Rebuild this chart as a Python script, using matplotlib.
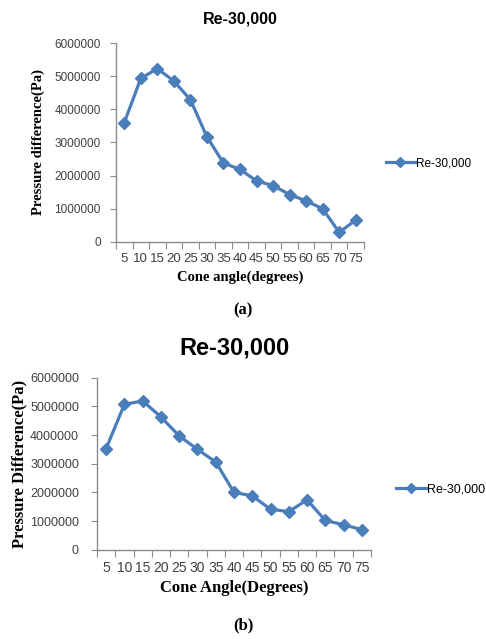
import numpy as np
import matplotlib
matplotlib.use("Agg")
import matplotlib.pyplot as plt
from matplotlib.ticker import FixedLocator, NullFormatter

# Cone angles (degrees) and pressure difference (Pa) at Re = 30,000
angles = [5, 10, 15, 20, 25, 30, 35, 40, 45, 50, 55, 60, 65, 70, 75]
dp_a = [3600000, 4930000, 5230000, 4850000, 4290000, 3170000, 2380000, 2190000,
        1840000, 1700000, 1430000, 1240000, 1000000, 290000, 660000]
dp_b = [3530000, 5070000, 5190000, 4630000, 3970000, 3500000, 3060000, 2000000,
        1880000, 1410000, 1330000, 1740000, 1020000, 870000, 700000]
y_ticks = [0, 1000000, 2000000, 3000000, 4000000, 5000000, 6000000]
series_name = "Re-30,000"

LINE = "#4a7ebb"
AXC = "#8c8c8c"
TICKC = "#404040"
SANS = ["Liberation Sans", "DejaVu Sans"]
SERIF = ["Liberation Serif", "DejaVu Serif"]

fig = plt.figure(figsize=(4.86, 6.39), dpi=100)


def panel(rect, values, title, title_size, title_pad, xlabel, ylabel, lab_size,
          tick_size, xtick_size, ypad, legend_xy, caption, cap_y, ylab_x):
    ax = fig.add_axes(rect)
    x = np.arange(len(angles))
    ax.plot(x, values, color=LINE, lw=2.3, marker="D", ms=6.5,
            markeredgecolor=LINE, markerfacecolor=LINE, label=series_name,
            clip_on=False, zorder=3)
    ax.set_xlim(-0.5, len(angles) - 0.5)
    ax.set_ylim(0, 6000000)
    ax.set_yticks(y_ticks)
    ax.set_yticklabels([str(v) for v in y_ticks], fontsize=tick_size,
                       family=SANS, color=TICKC)
    # category boundaries carry the tick marks, centres carry the labels
    ax.xaxis.set_major_locator(FixedLocator(np.arange(-0.5, len(angles), 1.0)))
    ax.xaxis.set_major_formatter(NullFormatter())
    ax.set_xticks(x, minor=True)
    ax.set_xticklabels([str(a) for a in angles], minor=True,
                       fontsize=xtick_size, family=SANS, color=TICKC)
    ax.tick_params(axis="x", which="major", length=5, color=AXC, direction="out")
    ax.tick_params(axis="x", which="minor", length=0, pad=8)
    ax.tick_params(axis="y", length=4, color=AXC, pad=ypad)
    for s in ("top", "right"):
        ax.spines[s].set_visible(False)
    for s in ("left", "bottom"):
        ax.spines[s].set_color(AXC)
        ax.spines[s].set_linewidth(1.0)
    ax.set_xlabel(xlabel, fontsize=lab_size, family=SERIF, fontweight="bold",
                  labelpad=4)
    ax.set_ylabel(ylabel, fontsize=lab_size, family=SERIF, fontweight="bold")
    ax.yaxis.set_label_coords(ylab_x, 0.5)
    ax.set_title(title, fontsize=title_size, family=SANS, fontweight="bold",
                 pad=title_pad)
    ax.legend(loc="center left", bbox_to_anchor=legend_xy,
              bbox_transform=fig.transFigure, frameon=False,
              prop={"family": SANS, "size": tick_size}, markerscale=0.8,
              handlelength=2.4, handletextpad=0.1, borderaxespad=0)
    fig.text(0.5, cap_y, caption, ha="center", va="center", family=SERIF,
             fontweight="bold", fontsize=12)
    return ax


panel([0.2387, 0.6213, 0.5103, 0.3114], dp_a, series_name, 11.5, 14,
      "Cone angle(degrees)", "Pressure difference(Pa)", 10.5, 8.5, 9.5, 7,
      (0.785, 1 - 163 / 639), "(a)", 1 - 310 / 639, -0.285)

panel([0.1996, 0.1397, 0.5638, 0.2692], dp_b, series_name, 17, 17,
      "Cone Angle(Degrees)", "Pressure Difference(Pa)", 12, 9, 10, 9,
      (0.805, 1 - 489 / 639), "(b)", 1 - 625 / 639, -0.255)

fig.savefig("out.png", dpi=100)
